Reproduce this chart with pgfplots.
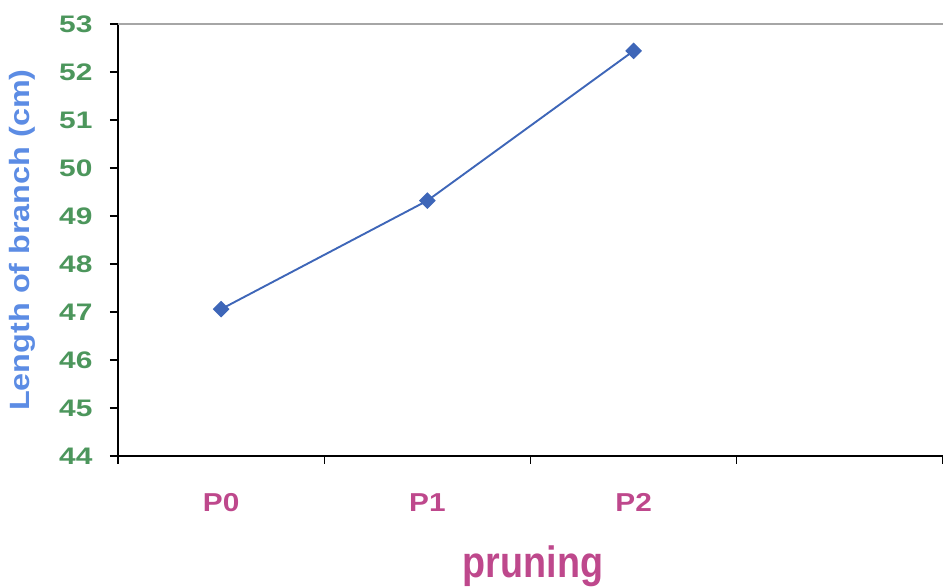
\documentclass[border=0pt]{standalone}
\usepackage{pgfplots}
\pgfplotsset{compat=1.18}
\usepackage{fontspec}
\setmainfont{Liberation Sans}
\newfontfamily\tickfnt[FakeStretch=1.25]{Liberation Sans}
\newfontfamily\catfnt[FakeStretch=1.15]{Liberation Sans}
\newfontfamily\yttlfnt[FakeStretch=1.16]{Liberation Sans}
\newfontfamily\xttlfnt[FakeStretch=0.86]{Liberation Sans}
\definecolor{tickgreen}{RGB}{76,150,92}
\definecolor{labelblue}{RGB}{92,140,228}
\definecolor{catmagenta}{RGB}{190,72,140}
\definecolor{lineblue}{RGB}{62,102,184}
\begin{document}
\begin{tikzpicture}[x=1bp,y=1bp]
\begin{axis}[
  at={(0,0)}, anchor=south west,
  scale only axis, width=825bp, height=432bp,
  xmin=0, xmax=4, ymin=44, ymax=53,
  axis x line*=bottom, axis y line*=left,
  axis line style={black, line width=1.2bp, -},
  xtick={0.5,1.5,2.5}, xticklabels={P0,P1,P2},
  minor xtick={0,1,2,3,4},
  ytick={44,45,...,53},
  tick align=outside,
  major x tick style={draw=none},
  minor tick length=8bp, major tick length=8bp,
  tick style={black, line width=1.2bp},
  /pgf/number format/assume math mode=true,
  yticklabel style={font=\tickfnt\fontsize{24}{26}\selectfont\bfseries, text=tickgreen, xshift=-14bp},
  xticklabel style={font=\catfnt\fontsize{26}{28}\selectfont\bfseries, text=catmagenta, yshift=-26bp},
  xlabel={pruning},
  ylabel={Length of branch (cm)},
  xlabel style={font=\xttlfnt\fontsize{44}{48}\selectfont\bfseries, text=catmagenta,
    at={(axis description cs:0.503,0)}, anchor=base, yshift=-121bp},
  ylabel style={font=\yttlfnt\fontsize{28}{30}\selectfont\bfseries, text=labelblue,
    at={(axis description cs:0,0.5)}, anchor=center, yshift=96bp},
]
\addplot[lineblue, line width=1.9bp, mark=square*,
  mark size=4.9bp, mark options={rotate=45, fill=lineblue, draw=lineblue}]
  coordinates {(0.5,47.06) (1.5,49.32) (2.5,52.44)};
\draw[gray!70, line width=1.2bp] (rel axis cs:0,1) -- (rel axis cs:1,1);
\draw[gray!25, line width=1bp] (rel axis cs:1,1) -- (rel axis cs:1,0);
\end{axis}
\pgfresetboundingbox
\path[use as bounding box] (-118,-131) rectangle (825,456);
\end{tikzpicture}
\end{document}
